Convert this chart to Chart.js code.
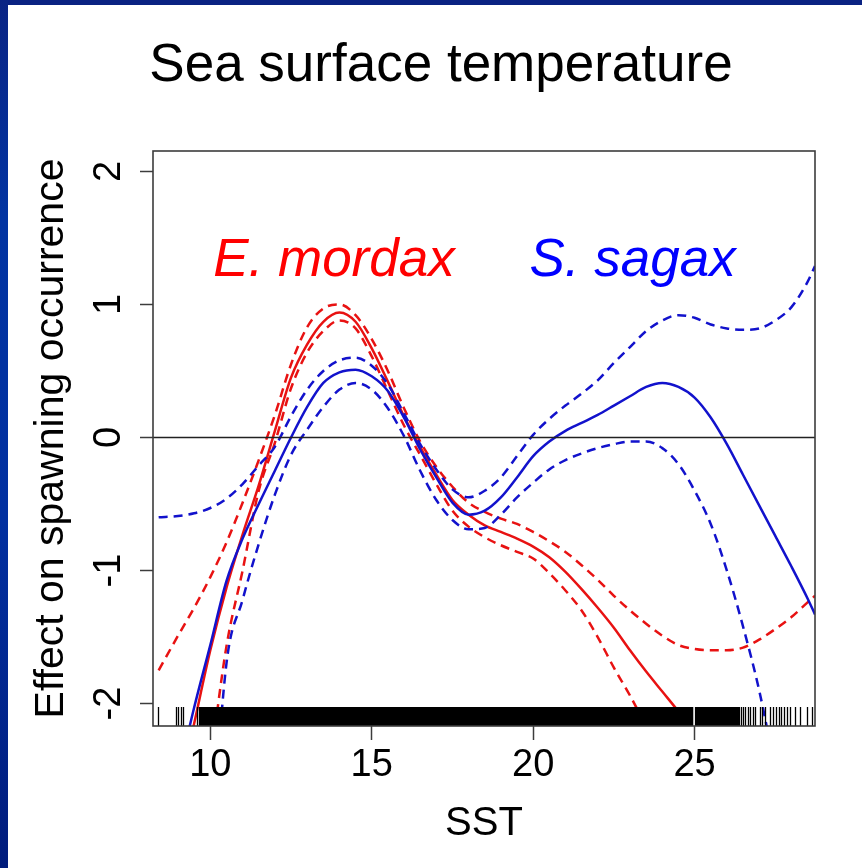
<!DOCTYPE html>
<html>
<head>
<meta charset="utf-8">
<title>Sea surface temperature</title>
<script src="https://cdn.jsdelivr.net/npm/chart.js@4.4.1/dist/chart.umd.min.js"></script>
<style>
  html, body { margin: 0; padding: 0; background: #ffffff; overflow: hidden; }
  #wrap { position: relative; width: 862px; height: 868px; }
  #c { position: absolute; left: 0; top: 0; }
  .band-top { position: absolute; left: 0; top: 0; width: 862px; height: 5px; background: #0a2282; }
  .band-left { position: absolute; left: 0; top: 0; width: 8px; height: 868px;
    background: linear-gradient(to bottom, #0a2484 0%, #0234a2 25%, #0230a0 60%, #011c7c 100%); }
</style>
</head>
<body>
<div id="wrap">
  <canvas id="c" width="862" height="868"></canvas>
  <div class="band-top"></div>
  <div class="band-left"></div>
</div>
<script>
// SST values (°C) at which the smooth terms are evaluated
const sstGrid = [8.4, 9.0, 9.5, 10.0, 10.5, 11.0, 11.5, 12.0, 12.5, 13.0, 13.5, 14.0, 14.5, 15.0,
  15.5, 16.0, 16.5, 17.0, 17.5, 18.0, 18.5, 19.0, 19.5, 20.0, 20.5, 21.0, 21.5, 22.0, 22.5, 23.0,
  23.5, 24.0, 24.5, 25.0, 25.5, 26.0, 26.5, 27.0, 27.5, 28.0, 28.5, 28.73];

// Engraulis mordax: fitted effect and confidence band
const mordaxFit = [null, -2.7, -2.15, -1.6, -1.13, -0.73, -0.36, 0.05, 0.45, 0.70, 0.87, 0.94, 0.87, 0.67,
  0.42, 0.16, -0.07, -0.28, -0.47, -0.58, -0.66, -0.71, -0.76, -0.82, -0.90, -1.01, -1.14, -1.28, -1.43, -1.60,
  -1.76, -1.91, -2.06, -2.22, -2.4, null, null, null, null, null, null, null];
const mordaxUpper = [-1.75, -1.49, -1.28, -1.05, -0.79, -0.49, -0.17, 0.17, 0.55, 0.83, 0.97, 1.0, 0.92, 0.74,
  0.50, 0.22, -0.03, -0.22, -0.37, -0.49, -0.56, -0.61, -0.65, -0.71, -0.78, -0.86, -0.96, -1.07, -1.19, -1.30,
  -1.40, -1.49, -1.56, -1.59, -1.60, -1.60, -1.58, -1.52, -1.44, -1.35, -1.24, -1.19];
const mordaxLower = [null, null, -3.3, -2.45, -1.57, -1.0, -0.40, -0.04, 0.37, 0.64, 0.80, 0.88, 0.82, 0.61,
  0.35, 0.09, -0.13, -0.35, -0.55, -0.67, -0.75, -0.81, -0.86, -0.91, -1.02, -1.15, -1.30, -1.50, -1.73, -1.94,
  -2.17, -2.4, null, null, null, null, null, null, null, null, null, null];

// Sardinops sagax: fitted effect and confidence band
const sagaxFit = [null, -2.55, -2.03, -1.56, -1.08, -0.76, -0.50, -0.25, 0.0, 0.23, 0.41, 0.49, 0.51, 0.46,
  0.35, 0.15, -0.09, -0.30, -0.49, -0.58, -0.55, -0.45, -0.30, -0.14, -0.03, 0.05, 0.11, 0.17, 0.24, 0.31,
  0.38, 0.41, 0.38, 0.30, 0.15, -0.05, -0.28, -0.51, -0.74, -0.97, -1.21, -1.33];
const sagaxUpper = [-0.60, -0.59, -0.57, -0.53, -0.46, -0.35, -0.21, -0.07, 0.16, 0.36, 0.50, 0.58, 0.60, 0.54,
  0.40, 0.18, -0.05, -0.24, -0.39, -0.45, -0.40, -0.30, -0.14, 0.02, 0.14, 0.24, 0.33, 0.43, 0.56, 0.68,
  0.80, 0.88, 0.92, 0.90, 0.85, 0.82, 0.81, 0.82, 0.88, 0.98, 1.17, 1.29];
const sagaxLower = [null, null, null, -3.2, -1.7, -1.22, -0.80, -0.43, -0.13, 0.06, 0.23, 0.36, 0.41, 0.36,
  0.22, 0.01, -0.25, -0.47, -0.62, -0.69, -0.68, -0.58, -0.45, -0.34, -0.24, -0.17, -0.12, -0.08, -0.05, -0.03,
  -0.03, -0.08, -0.20, -0.40, -0.65, -1.00, -1.42, -1.90, -2.5, null, null, null];

// Observed SST values along the rug: isolated samples and densely sampled stretches
const rugTicks = [8.37, 8.94, 9.01, 9.08, 9.16, 9.58, 9.66, 26.43, 26.49, 26.57, 26.64, 26.72, 26.80, 26.88,
  27.02, 27.09, 27.19, 27.35, 27.43, 27.51, 27.60, 27.68, 27.78, 27.85, 27.97, 28.10, 28.26, 28.49, 28.65];
const rugRanges = [[9.68, 24.96], [25.01, 26.41]];

// Axis ticks and ranges
const xTicks = [10, 15, 20, 25];
const yTicks = [-2, -1, 0, 1, 2];
const xRange = [8.225, 28.73];
const yRange = [-2.169, 2.154];

// Species labels placed in data coordinates
const speciesNames = ['E. mordax', 'S. sagax'];
const speciesSst = [13.83, 23.08];
const speciesEffect = [1.215, 1.215];
const speciesColors = ['#ff0000', '#0000ff'];

const FONT = '"Liberation Sans", Arial, Helvetica, sans-serif';
const RED = '#e81212';
const BLUE = '#1212cc';

function series(values) {
  return sstGrid.map((s, i) => ({ x: s, y: values[i] }));
}

function curve(label, values, color, dashed, order) {
  return {
    label, data: series(values), borderColor: color, borderWidth: 2.5,
    borderDash: dashed ? [9, 6] : [], pointRadius: 0, fill: false,
    cubicInterpolationMode: 'monotone', spanGaps: false, clip: 0, order
  };
}

const overlayPlugin = {
  id: 'rugFrameLabels',
  afterDatasetsDraw(chart) {
    const { ctx, chartArea: a, scales } = chart;
    const x = scales.x, y = scales.y;
    const rugLen = 19;
    ctx.save();
    // rug of observations
    ctx.fillStyle = '#000';
    rugRanges.forEach(([lo, hi]) => {
      const x0 = x.getPixelForValue(lo), x1 = x.getPixelForValue(hi);
      ctx.fillRect(x0, a.bottom - rugLen, x1 - x0, rugLen);
    });
    ctx.strokeStyle = '#000';
    ctx.lineWidth = 1.3;
    rugTicks.forEach(v => {
      const px = Math.round(x.getPixelForValue(v)) + 0.5;
      ctx.beginPath();
      ctx.moveTo(px, a.bottom);
      ctx.lineTo(px, a.bottom - rugLen);
      ctx.stroke();
    });
    // plot frame
    ctx.strokeStyle = '#3c3c3c';
    ctx.lineWidth = 1.6;
    ctx.strokeRect(a.left, a.top, a.right - a.left, a.bottom - a.top);
    // species names
    ctx.font = 'italic 53px ' + FONT;
    ctx.textAlign = 'center';
    ctx.textBaseline = 'alphabetic';
    speciesNames.forEach((name, i) => {
      ctx.fillStyle = speciesColors[i];
      ctx.fillText(name, x.getPixelForValue(speciesSst[i]), y.getPixelForValue(speciesEffect[i]));
    });
    ctx.restore();
  }
};

new Chart(document.getElementById('c'), {
  type: 'line',
  data: {
    datasets: [
      { label: 'zero', data: [{ x: xRange[0], y: 0 }, { x: xRange[1], y: 0 }], borderColor: '#222222',
        borderWidth: 1.5, pointRadius: 0, fill: false, clip: 0, order: 0 },
      curve('S. sagax', sagaxFit, BLUE, false, 1),
      curve('S. sagax upper', sagaxUpper, BLUE, true, 1),
      curve('S. sagax lower', sagaxLower, BLUE, true, 1),
      curve('E. mordax', mordaxFit, RED, false, 2),
      curve('E. mordax upper', mordaxUpper, RED, true, 2),
      curve('E. mordax lower', mordaxLower, RED, true, 2)
    ]
  },
  options: {
    responsive: false,
    animation: false,
    devicePixelRatio: 1,
    layout: { padding: { left: 20, right: 0, top: 0, bottom: 0 } },
    plugins: {
      legend: { display: false },
      tooltip: { enabled: false },
      title: {
        display: true,
        text: 'Sea surface temperature',
        color: '#000',
        font: { family: FONT, size: 53, weight: 'normal', lineHeight: 1 },
        padding: { top: 40, bottom: 58 }
      }
    },
    scales: {
      x: {
        type: 'linear',
        position: 'bottom',
        min: xRange[0],
        max: xRange[1],
        afterBuildTicks: s => { s.ticks = xTicks.map(v => ({ value: v })); },
        afterFit: s => { s.height = 142; },
        border: { display: false },
        grid: { drawOnChartArea: false, drawTicks: true, tickLength: 14, tickWidth: 1.5, tickColor: '#3c3c3c' },
        ticks: { color: '#000', font: { family: FONT, size: 38 }, padding: 3, maxRotation: 0, autoSkip: false },
        title: { display: true, text: 'SST', color: '#000', font: { family: FONT, size: 40 }, padding: { top: 0, bottom: 20 } }
      },
      y: {
        type: 'linear',
        position: 'left',
        min: yRange[0],
        max: yRange[1],
        afterBuildTicks: s => { s.ticks = yTicks.map(v => ({ value: v })); },
        afterFit: s => { s.width = 133; },
        border: { display: false },
        grid: { drawOnChartArea: false, drawTicks: true, tickLength: 13, tickWidth: 1.5, tickColor: '#3c3c3c' },
        ticks: { color: '#000', font: { family: FONT, size: 38 }, padding: 14, minRotation: 90, maxRotation: 90,
          crossAlign: 'center', autoSkip: false },
        title: { display: true, text: 'Effect on spawning occurrence', color: '#000',
          font: { family: FONT, size: 41 }, padding: { top: 7, bottom: 0 } }
      },
      yRight: {
        axis: 'y',
        type: 'linear',
        position: 'right',
        display: true,
        afterFit: s => { s.width = 47; },
        border: { display: false },
        grid: { display: false },
        ticks: { display: false }
      }
    }
  },
  plugins: [overlayPlugin]
});
</script>
</body>
</html>
